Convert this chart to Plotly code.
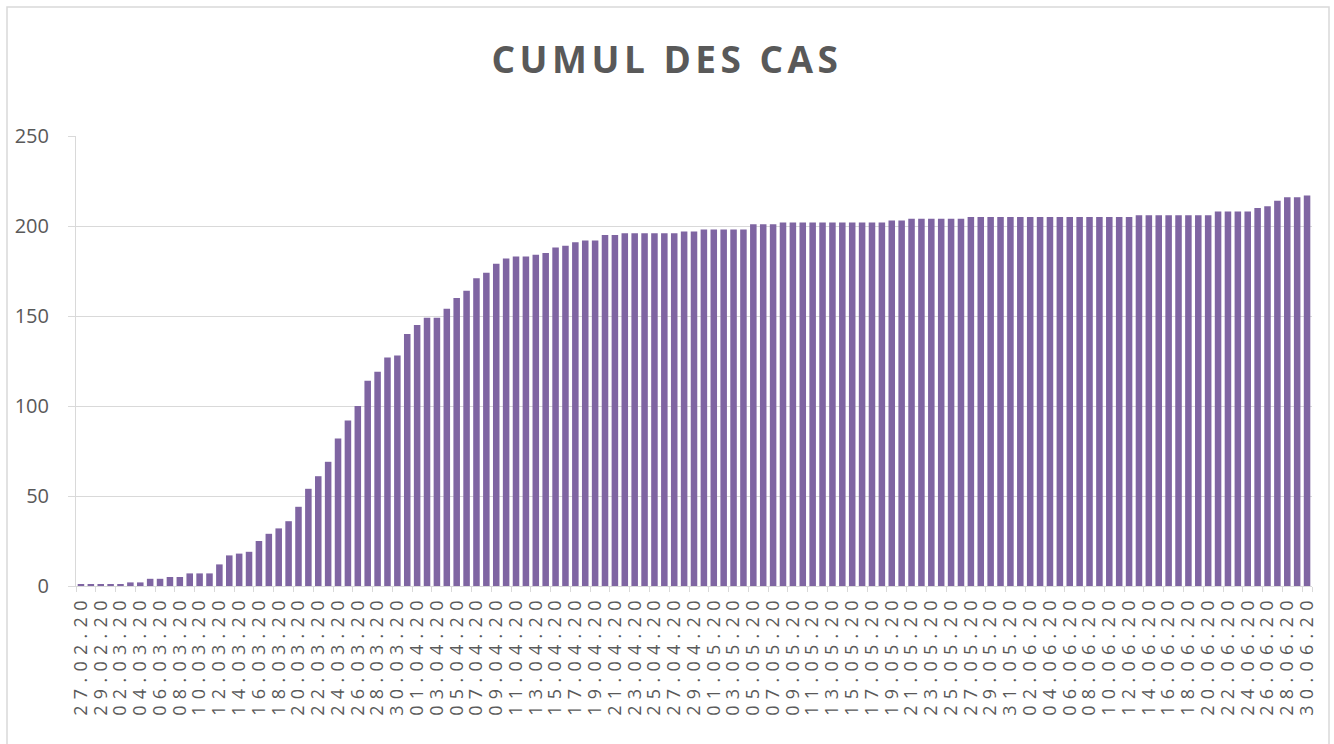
import plotly.graph_objects as go
import pandas as pd

# Categories: daily dates 27.02.20 -> 30.06.20
dates = [d.strftime("%d.%m.%y") for d in pd.date_range("2020-02-27", "2020-06-30", freq="D")]

# Cumulative cases
cumul = [
    1, 1, 1, 1, 1, 2, 2, 4, 4, 5,
    5, 7, 7, 7, 12, 17, 18, 19, 25, 29,
    32, 36, 44, 54, 61, 69, 82, 92, 100, 114,
    119, 127, 128, 140, 145, 149, 149, 154, 160, 164,
    171, 174, 179, 182, 183, 183, 184, 185, 188, 189,
    191, 192, 192, 195, 195, 196, 196, 196, 196, 196,
    196, 197, 197, 198, 198, 198, 198, 198, 201, 201,
    201, 202, 202, 202, 202, 202, 202, 202, 202, 202,
    202, 202, 203, 203, 204, 204, 204, 204, 204, 204,
    205, 205, 205, 205, 205, 205, 205, 205, 205, 205,
    205, 205, 205, 205, 205, 205, 205, 206, 206, 206,
    206, 206, 206, 206, 206, 208, 208, 208, 208, 210,
    211, 214, 216, 216, 217,
]

tick_labels = dates[::2]
y_ticks = [0, 50, 100, 150, 200, 250]

BAR = "#7f65a2"
TXT = "#595959"
GRID = "#d9d9d9"

fig = go.Figure()
fig.add_trace(go.Bar(x=dates, y=cumul, marker=dict(color=BAR, line=dict(width=0)),
                     hoverinfo="x+y"))

L, R, T, B = 76, 22, 136, 158
W, H = 1334, 744
pw, ph = W - L - R, H - T - B

fig.update_layout(
    width=W, height=H,
    margin=dict(l=L, r=R, t=T, b=B, pad=0),
    paper_bgcolor="white", plot_bgcolor="white",
    bargap=0.34,
    showlegend=False,
    title=dict(text="<b>CUMUL DES CAS</b>", x=0.5, xanchor="center",
               y=1 - 60 / H, yanchor="middle", yref="container",
               font=dict(family="Open Sans", size=37, color=TXT)),
    font=dict(family="Open Sans", color=TXT),
    xaxis=dict(
        type="category",
        tickmode="array", tickvals=tick_labels, ticktext=tick_labels,
        tickangle=-90, tickson="boundaries",
        ticks="outside", ticklen=5, tickcolor=GRID,
        showline=True, linecolor=GRID, linewidth=1,
        showgrid=False,
        tickfont=dict(family="Open Sans", size=18, color=TXT),
        range=[-0.5, len(dates) - 0.5],
    ),
    yaxis=dict(
        range=[0, 250], tickvals=y_ticks,
        showgrid=True, gridcolor=GRID, gridwidth=1,
        showline=True, linecolor=GRID, linewidth=1,
        ticks="outside", ticklen=7, tickcolor=GRID,
        ticklabelstandoff=15,
        zeroline=False,
        tickfont=dict(family="Open Sans", size=20, color=TXT),
    ),
)

# outer chart border
fig.add_shape(type="rect", xref="paper", yref="paper",
              x0=(7 - L) / pw, x1=(1329 - L) / pw,
              y0=(H - B - 760) / ph, y1=(H - B - 7) / ph,
              line=dict(color=GRID, width=1.5), fillcolor="rgba(0,0,0,0)", layer="below")

post = """
document.body.style.margin='0';
var gd = document.getElementById('{plot_id}');
function spacing(){
  gd.querySelectorAll('.xtick text').forEach(function(t){ t.setAttribute('letter-spacing','6.3'); });
  gd.querySelectorAll('.gtitle').forEach(function(t){ t.setAttribute('letter-spacing','4.5'); });
}
spacing();
gd.on('plotly_afterplot', spacing);
"""

fig.write_html("out.html", post_script=post, config={"displayModeBar": False})
